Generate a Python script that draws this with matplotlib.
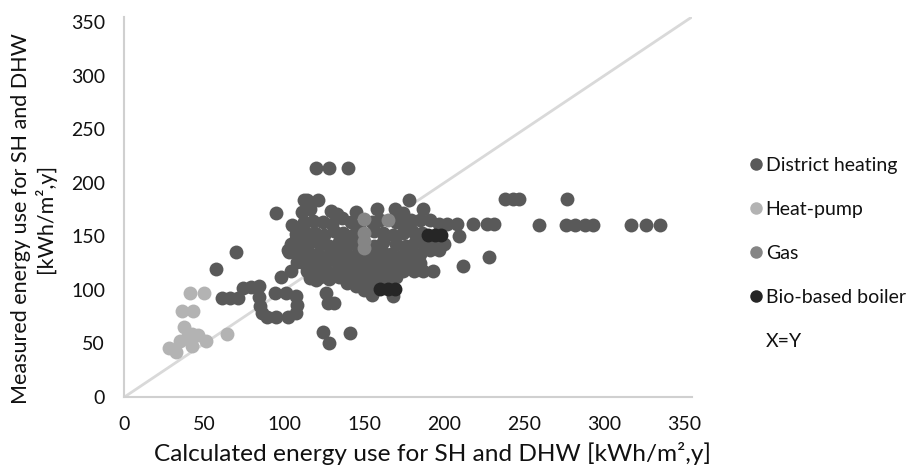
import matplotlib
matplotlib.use('Agg')
import matplotlib.pyplot as plt
from matplotlib.lines import Line2D

plt.rcParams['font.family'] = ['Lato', 'DejaVu Sans']

# district heating points (calculated, measured)
dh_x = [57, 70, 61, 66, 71, 74, 79, 84, 84, 85, 86, 89, 95, 102, 107, 108, 107, 101, 94,
        98, 104, 95, 102, 107, 109, 111, 113, 112, 111, 116, 114, 121, 120, 128, 140,
        120, 124, 128, 141, 126, 127, 131,
        129, 133, 136, 145, 158, 169, 174, 178, 187,
        105, 112, 118, 124, 130, 142, 147, 155, 160, 170, 175, 179, 185, 191, 197, 202, 208, 218, 227, 231,
        107, 113, 119, 125, 131, 137, 143, 156, 162, 168, 174, 180, 186, 209,
        104, 110, 116, 122, 128, 134, 140, 146, 156, 162, 170, 176, 182, 188, 194, 200,
        103, 109, 115, 121, 127, 133, 139, 145, 155, 161, 167, 173, 179, 185, 191, 197,
        108, 113, 119, 125, 131, 137, 143, 149, 155, 161, 167, 173, 179, 185,
        114, 120, 126, 132, 138, 144, 150, 156, 162, 168, 174, 181, 187, 193, 212,
        116, 122, 128, 134, 140, 146, 152, 158, 164, 170,
        139, 145, 152, 156, 150, 155, 168,
        228, 238, 243, 247, 259, 277, 276, 282, 288, 293, 317, 326, 335]
dh_y = [120, 135, 92, 92, 92, 102, 103, 104, 93, 85, 78, 75, 75, 75, 78, 86, 94, 97, 97,
        112, 118, 172, 137, 148, 156, 144, 128, 184, 173, 176, 184, 184, 214, 214, 214,
        109, 61, 50, 60, 97, 88, 88,
        174, 171, 167, 173, 176, 176, 172, 184, 176,
        161, 163, 164, 163, 162, 163, 160, 163, 165, 163, 162, 165, 165, 165, 162, 162, 162, 162, 162, 162,
        152, 154, 153, 151, 155, 153, 151, 155, 153, 151, 153, 155, 153, 150,
        143, 141, 145, 143, 141, 145, 143, 141, 141, 145, 143, 141, 145, 143, 141, 143,
        135, 133, 136, 134, 132, 136, 134, 132, 133, 136, 134, 132, 136, 134, 137, 137,
        126, 124, 127, 125, 128, 126, 124, 127, 125, 128, 126, 124, 127, 125,
        118, 117, 119, 117, 118, 119, 117, 118, 119, 117, 118, 118, 118, 118, 122,
        111, 112, 110, 112, 111, 110, 112, 111, 110, 112,
        106, 104, 104, 103, 100, 95, 94,
        131, 185, 185, 185, 161, 185, 161, 161, 161, 161, 161, 161, 161]

# heat-pump points
hp_x = [41, 50, 36, 43, 37, 42, 46, 39, 35, 51, 42, 28, 32, 64]
hp_y = [97, 97, 80, 80, 65, 59, 58, 55, 52, 52, 48, 46, 42, 59]

# gas points
gas_x = [150, 165, 150, 150, 150]
gas_y = [166, 165, 153, 146, 139]

# bio-based boiler points
bio_x = [190, 194, 198, 160, 165, 169]
bio_y = [151, 151, 151, 101, 101, 101]

c_dh = '#595959'
c_hp = '#b3b3b3'
c_gas = '#858585'
c_bio = '#262626'
txt = '#111111'

fig = plt.figure(figsize=(9.06, 4.73), dpi=100)
ax = fig.add_axes([0.1374, 0.1607, 0.6264, 0.8036])

ax.plot([0, 355], [0, 355], color='#d9d9d9', linewidth=2, zorder=1)
ax.scatter(dh_x, dh_y, s=100, color=c_dh, linewidths=0, zorder=2)
ax.scatter(hp_x, hp_y, s=100, color=c_hp, linewidths=0, zorder=3)
ax.scatter(gas_x, gas_y, s=100, color=c_gas, linewidths=0, zorder=4)
ax.scatter(bio_x, bio_y, s=100, color=c_bio, linewidths=0, zorder=5)

ax.set_xlim(0, 355)
ax.set_ylim(0, 355)
ax.set_xticks(range(0, 351, 50))
ax.set_yticks(range(0, 351, 50))
ax.tick_params(length=0, labelsize=14, colors=txt)
ax.tick_params(axis='x', pad=14)
ax.tick_params(axis='y', pad=14)
for side in ['top', 'right']:
    ax.spines[side].set_visible(False)
for side in ['left', 'bottom']:
    ax.spines[side].set_color('#d0d0d0')
    ax.spines[side].set_linewidth(1.5)

ax.set_xlabel('Calculated energy use for SH and DHW [kWh/m²,y]', fontsize=17.6, color=txt)
ax.xaxis.set_label_coords(0.542, -0.118)
ax.set_ylabel('Measured energy use for SH and DHW\n[kWh/m²,y]', fontsize=15.5,
              linespacing=1.15, color=txt)
ax.yaxis.set_label_coords(-0.121, 0.47)

handles = [
    Line2D([], [], marker='o', linestyle='none', markersize=9, markerfacecolor=c_dh, markeredgewidth=0),
    Line2D([], [], marker='o', linestyle='none', markersize=9, markerfacecolor=c_hp, markeredgewidth=0),
    Line2D([], [], marker='o', linestyle='none', markersize=9, markerfacecolor=c_gas, markeredgewidth=0),
    Line2D([], [], marker='o', linestyle='none', markersize=9, markerfacecolor=c_bio, markeredgewidth=0),
    Line2D([], [], linestyle='none'),
]
labels = ['District heating', 'Heat-pump', 'Gas', 'Bio-based boiler', 'X=Y']
leg = fig.legend(handles, labels, loc='upper left', bbox_to_anchor=(0.829, 0.669), frameon=False,
                 fontsize=14, handlelength=0.55, handletextpad=0.2, labelspacing=1.4,
                 borderpad=0, borderaxespad=0)
for t in leg.get_texts():
    t.set_color(txt)

fig.savefig('out.png', dpi=100)
